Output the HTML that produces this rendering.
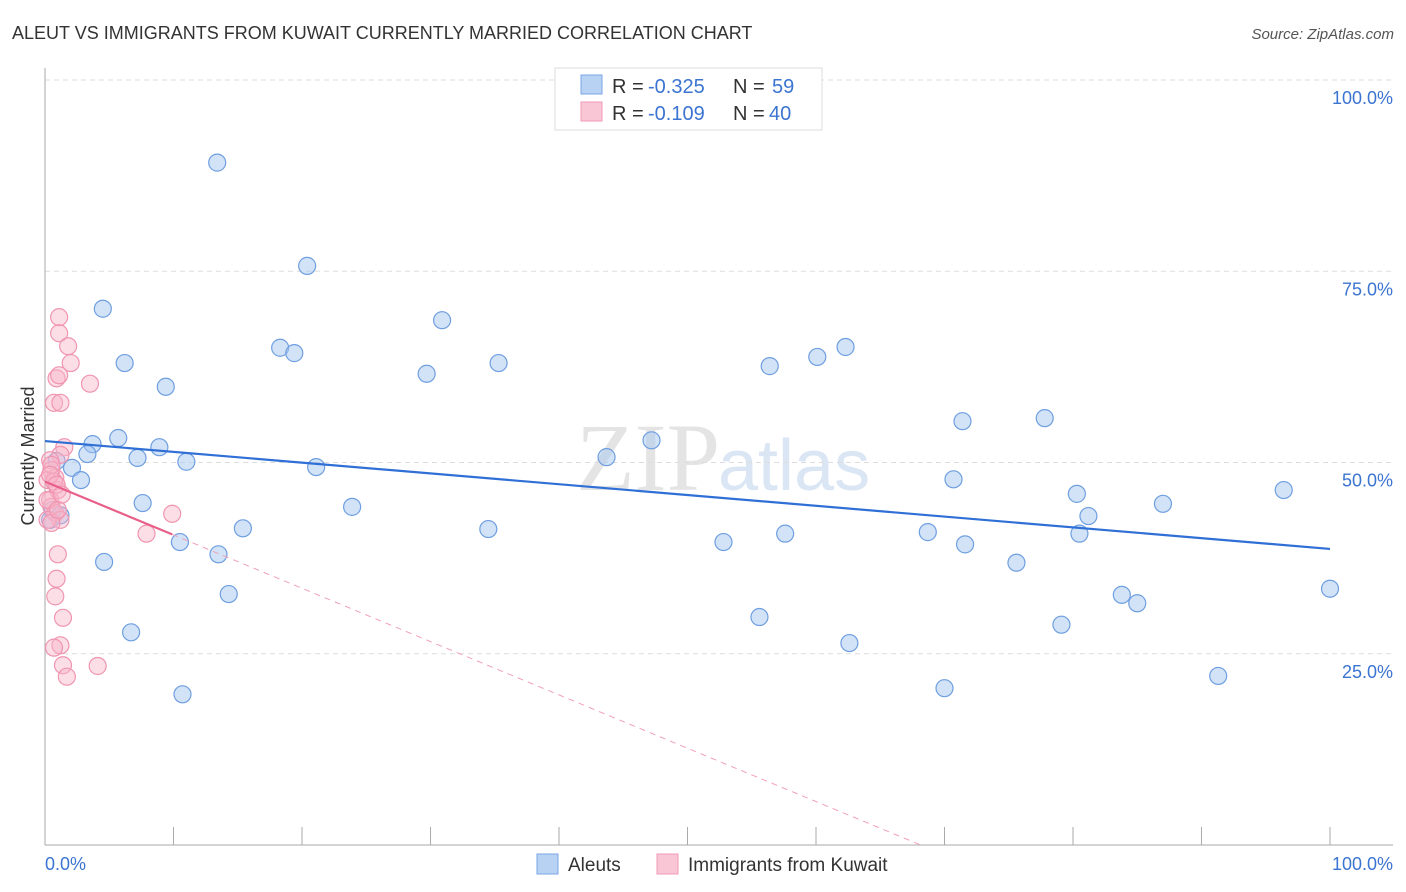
<!DOCTYPE html>
<html><head><meta charset="utf-8"><style>
body{margin:0;background:#fff;font-family:"Liberation Sans",sans-serif}
svg{display:block}
</style></head><body>
<svg id="c" width="1406" height="892">
<text x="12" y="39" font-size="18" fill="#333">ALEUT VS IMMIGRANTS FROM KUWAIT CURRENTLY MARRIED CORRELATION CHART</text>
<text x="1394" y="39" font-size="15" fill="#555" text-anchor="end" font-style="italic">Source: ZipAtlas.com</text>
<text x="720" y="490" font-size="96" fill="#e4e4e4" text-anchor="end" font-family="Liberation Serif">ZIP</text>
<text x="718" y="490" font-size="72" fill="#dbe6f5">atlas</text>
<g id="grid"></g><g id="pts"></g><g id="lines"></g>
<text transform="translate(34,456) rotate(-90)" font-size="18" fill="#333" text-anchor="middle">Currently Married</text>
<text x="45" y="870" font-size="18" fill="#3b74d1">0.0%</text>
<text x="1393" y="870" font-size="18" fill="#3b74d1" text-anchor="end">100.0%</text>
<g>
<rect x="555" y="68" width="267" height="62" fill="#fff" stroke="#ddd"/>
<rect x="581" y="75" width="21" height="19" fill="#b8d2f4" stroke="#7aa6e6"/>
<rect x="581" y="102" width="21" height="19" fill="#f9c6d5" stroke="#f09ab4"/>
<text x="612" y="93" font-size="20" fill="#333">R =</text>
<text x="648" y="93" font-size="20" fill="#3b74d1">-0.325</text>
<text x="733" y="93" font-size="20" fill="#333">N =</text>
<text x="772" y="93" font-size="20" fill="#3b74d1">59</text>
<text x="612" y="120" font-size="20" fill="#333">R =</text>
<text x="648" y="120" font-size="20" fill="#3b74d1">-0.109</text>
<text x="733" y="120" font-size="20" fill="#333">N =</text>
<text x="769" y="120" font-size="20" fill="#3b74d1">40</text>
</g>
<g>
<rect x="537" y="854" width="21" height="20" fill="#b8d2f4" stroke="#7aa6e6"/>
<text x="568" y="871" font-size="19" fill="#333">Aleuts</text>
<rect x="657" y="854" width="21" height="20" fill="#f9c6d5" stroke="#f09ab4"/>
<text x="688" y="871" font-size="19" fill="#333">Immigrants from Kuwait</text>
</g>
</svg>
<script>
const yTicks=[25,50,75,100];
const yTickLabels=["25.0%","50.0%","75.0%","100.0%"];
const xTicks=[10,20,30,40,50,60,70,80,90,100];
const blueX=[13.4,20.4,4.5,30.9,18.3,19.4,6.2,35.3,29.7,9.4,56.4,60.1,62.3,71.4,77.8,5.7,3.7,8.9,47.2,3.3,7.2,11.0,43.7,21.1,2.1,0.9,2.8,70.7,80.3,96.4,7.6,23.9,87.0,81.2,34.5,15.4,68.7,57.6,80.5,10.5,52.8,71.6,13.5,4.6,75.6,100,14.3,83.8,85.0,55.6,6.7,79.1,62.6,10.7,70.0,91.3,0.4,0.6,1.2];
const blueY=[89.2,75.7,70.1,68.6,65.0,64.3,63.0,63.0,61.6,59.9,62.6,63.8,65.1,55.4,55.8,53.2,52.4,52.0,52.9,51.1,50.6,50.1,50.7,49.4,49.3,50.2,47.7,47.8,45.9,46.4,44.7,44.2,44.6,43.0,41.3,41.4,40.9,40.7,40.7,39.6,39.6,39.3,38.0,37.0,36.9,33.5,32.8,32.7,31.6,29.8,27.8,28.8,26.4,19.7,20.5,22.1,42.5,43.8,43.1];
const pinkX=[1.1,1.1,1.8,2.0,0.9,1.1,3.5,0.7,1.2,1.5,1.2,0.4,0.5,0.8,0.2,0.5,1.0,0.4,0.5,0.8,1.2,0.2,9.9,7.9,1.0,0.9,0.8,1.4,1.2,0.7,1.4,1.7,4.1,0.7,0.4,0.9,0.5,0.2,1.0,1.3];
const pinkY=[69.0,66.9,65.2,63.0,61.0,61.4,60.3,57.8,57.8,52.0,51.0,50.3,49.0,48.0,47.7,49.7,46.4,45.1,44.2,43.4,42.5,42.5,43.3,40.7,38.0,34.8,32.5,29.7,26.1,25.8,23.5,22.0,23.4,47.5,48.4,47.1,42.1,45.1,43.8,45.8];
const blueTrend=[52.8,38.7];
const pinkTrend=[47.5,-0.697];
const pinkSolidEnd=9.9;
const NS="http://www.w3.org/2000/svg";
const sx=v=>45+v*12.85, sy=v=>845-v*7.65;
function mk(t,a,p){const e=document.createElementNS(NS,t);for(const k in a)e.setAttribute(k,a[k]);p.appendChild(e);return e;}
const g=document.getElementById('grid');
yTicks.forEach((t,i)=>{
 const l=mk('line',{x1:45,x2:1393,y1:sy(t),y2:sy(t),stroke:'#ddd','stroke-dasharray':'5,4'},g);
 
 
 const tx=mk('text',{x:1393,y:sy(t)+24,'font-size':18,fill:'#3b74d1','text-anchor':'end'},g);
 tx.textContent=yTickLabels[i];
 
 
});
const ax=mk('line',{x1:45,x2:45,y1:68,y2:845,stroke:'#aaa'},g);


const bx=mk('line',{x1:45,x2:1393,y1:845,y2:845,stroke:'#aaa'},g);


xTicks.forEach(t=>{const l=mk('line',{x1:sx(t),x2:sx(t),y1:827,y2:845,stroke:'#aaa'},g);
 
 });
const p=document.getElementById('pts');
blueX.forEach((x,i)=>{const c=mk('circle',{cx:sx(x),cy:sy(blueY[i]),r:8.5,fill:'rgba(165,198,240,0.5)',stroke:'#6f9fe0','stroke-width':1.2},p);
 
 });
pinkX.forEach((x,i)=>{const c=mk('circle',{cx:sx(x),cy:sy(pinkY[i]),r:8.5,fill:'rgba(248,182,202,0.45)',stroke:'#f095b0','stroke-width':1.2},p);
 
 });
const L=document.getElementById('lines');
const b=mk('line',{x1:sx(0),y1:sy(blueTrend[0]),x2:sx(100),y2:sy(blueTrend[1]),stroke:'#2f6fd6','stroke-width':2.2},L);


const xz=-pinkTrend[0]/pinkTrend[1];
const d=mk('line',{x1:sx(pinkSolidEnd),y1:sy(pinkTrend[0]+pinkTrend[1]*pinkSolidEnd),x2:sx(xz),y2:sy(0),stroke:'#f0a0b8','stroke-width':1,'stroke-dasharray':'6,5'},L);


const s=mk('line',{x1:sx(0),y1:sy(pinkTrend[0]),x2:sx(pinkSolidEnd),y2:sy(pinkTrend[0]+pinkTrend[1]*pinkSolidEnd),stroke:'#e8608a','stroke-width':2.2},L);


</script>
</body></html>
